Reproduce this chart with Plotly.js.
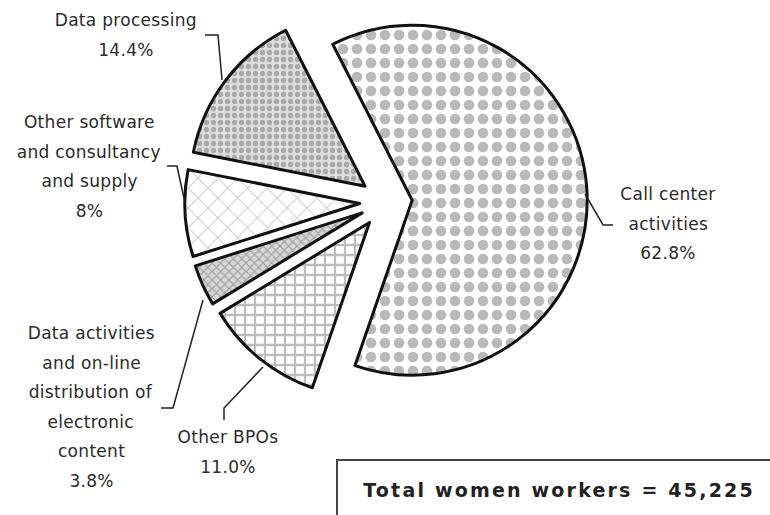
<!DOCTYPE html>
<html>
<head>
<meta charset="utf-8">
<script src="https://cdn.plot.ly/plotly-3.0.1.min.js"></script>
<style>html,body{margin:0;padding:0;background:#fff;}#chart{width:770px;height:515px;}</style>
</head>
<body>
<div id="chart"></div>
<script>
// ---- data ----
const categories = ['Call center activities', 'Other BPOs',
  'Data activities and on-line distribution of electronic content',
  'Other software and consultancy and supply', 'Data processing'];
const shares = [62.8, 11.0, 3.8, 8, 14.4];
const shareText = ['62.8%', '11.0%', '3.8%', '8%', '14.4%'];
const labelLines = [
  ['Call center', 'activities'],
  ['Other BPOs'],
  ['Data activities', 'and on-line', 'distribution of', 'electronic', 'content'],
  ['Other software', 'and consultancy', 'and supply'],
  ['Data processing']
];
const totalText = 'Total women workers = 45,225';

// ---- styling / layout (pixel helpers) ----
const W = 770, H = 515;
const px = x => x / W, py = y => 1 - y / H;

const patShape = ['.', '+', 'x', 'x', '.'];
const patFg = ['#b9b9b9', '#bdbdbd', '#9a9a9a', '#cfcfcf', '#a9a9a9'];
const patBg = ['#ffffff', '#ffffff', '#d6d6d6', '#ffffff', '#dedede'];
const patSize = [14, 10, 6, 14, 7];
const patSolid = [0.45, 0.4, 0.3, 0.15, 0.45];

// label anchor positions (pixels): first line center and line step
const labelPos = [
  {x: 668, y: 194}, {x: 228, y: 437}, {x: 91, y: 333}, {x: 89, y: 122}, {x: 126, y: 20}
];
const lineStep = 29.5;

// leader lines (pixels)
const leaders = [
  [[585, 194], [603, 225], [613, 225]],
  [[224, 420], [224, 408], [263, 367]],
  [[161, 408], [173, 408], [203, 300]],
  [[167, 166], [177, 166], [185, 203]],
  [[205, 35], [218, 35], [222, 80]]
];

const annotations = [];
labelLines.forEach((lines, i) => {
  const all = lines.concat([shareText[i]]);
  all.forEach((t, k) => {
    annotations.push({
      xref: 'paper', yref: 'paper', x: px(labelPos[i].x), y: py(labelPos[i].y + k * lineStep),
      text: t, showarrow: false, xanchor: 'center', yanchor: 'middle',
      font: {family: 'DejaVu Sans', size: 17, color: '#2a2a2a'}
    });
  });
});
annotations.push({
  xref: 'paper', yref: 'paper', x: px(559), y: py(490), text: totalText, showarrow: false,
  xanchor: 'center', yanchor: 'middle',
  font: {family: 'DejaVu Sans', size: 19, color: '#222', weight: 'bold'}
});

const shapes = leaders.map(pts => ({
  type: 'path', xref: 'paper', yref: 'paper',
  path: pts.map((p, k) => (k ? 'L' : 'M') + px(p[0]) + ',' + py(p[1])).join(' '),
  line: {color: '#222', width: 1.5}
}));
shapes.push({
  type: 'rect', xref: 'paper', yref: 'paper', x0: px(337), x1: px(775), y0: py(460), y1: py(520),
  line: {color: '#444', width: 2}, fillcolor: 'rgba(0,0,0,0)'
});

const trace = {
  type: 'pie', labels: categories, values: shares, sort: false, direction: 'clockwise',
  rotation: -27, pull: [0.15, 0.15, 0.15, 0.15, 0.15], textinfo: 'none', hoverinfo: 'skip',
  showlegend: false,
  domain: {x: [0.2399, 0.7627], y: [0.2170, 0.9985]},
  marker: {
    colors: patBg,
    line: {color: '#111', width: 3},
    pattern: {shape: patShape, fgcolor: patFg, bgcolor: patBg, size: patSize, solidity: patSolid}
  }
};

const layout = {
  width: W, height: H, margin: {l: 0, r: 0, t: 0, b: 0},
  paper_bgcolor: '#fff', plot_bgcolor: '#fff', showlegend: false,
  annotations: annotations, shapes: shapes
};

Plotly.newPlot('chart', [trace], layout, {displayModeBar: false, staticPlot: true}).then(gd => {
  const texts = gd.querySelectorAll('.annotation-text');
  texts.forEach(t => {
    if (t.textContent === totalText) t.style.letterSpacing = '2.2px';
    else t.style.letterSpacing = '0.3px';
  });
});
</script>
</body>
</html>
